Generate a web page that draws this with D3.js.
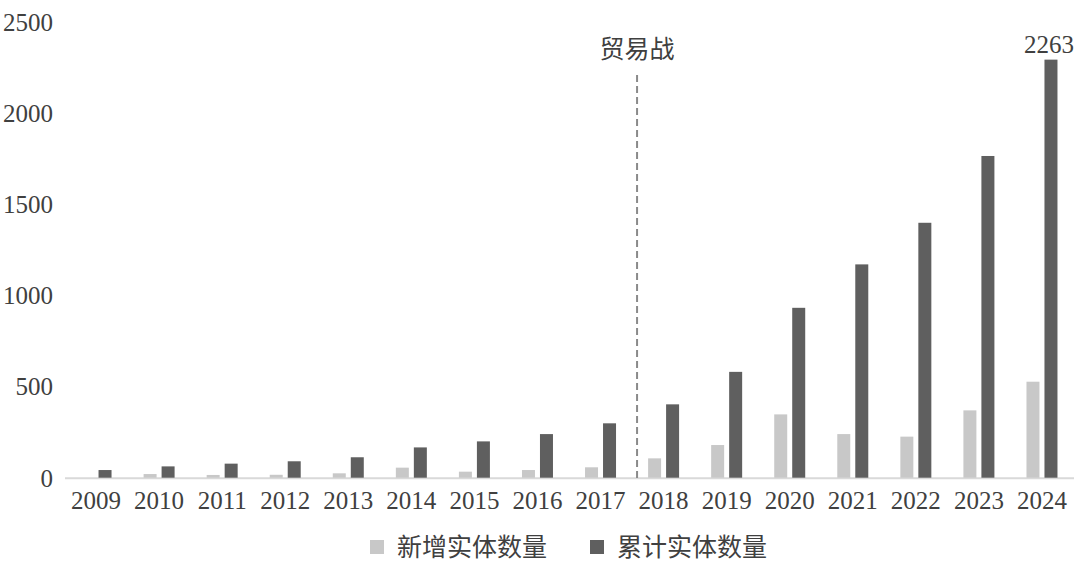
<!DOCTYPE html>
<html><head><meta charset="utf-8">
<script src="https://cdn.jsdelivr.net/npm/d3@7"></script>
<style>
html,body{margin:0;padding:0;background:#fff;}
svg{display:block;}
</style></head>
<body>
<svg id="chart" width="1080" height="563"></svg>
<script>
const years = ["2009","2010","2011","2012","2013","2014","2015","2016","2017","2018","2019","2020","2021","2022","2023","2024"];
const newEntities = [0, 20, 15, 16, 24, 55, 33, 42, 57, 106, 179, 347, 239, 225, 369, 526];
const cumulativeEntities = [42, 62, 77, 90, 112, 166, 199, 239, 298, 402, 580, 931, 1169, 1397, 1763, 2291];
const yTicks = [0, 500, 1000, 1500, 2000, 2500];
const seriesNames = ["新增实体数量", "累计实体数量"];
const seriesColors = ["#c8c8c8", "#5f5f5f"];
const eventLabel = "贸易战";
const eventYear = "2018";
const endLabel = "2263";

const svg = d3.select("#chart");
const serif = "'Liberation Serif','Times New Roman',serif";
const cjk = "'Noto Sans CJK SC','Noto Sans CJK JP',sans-serif";
const textColor = "#404040";

const x = d3.scaleBand().domain(years).range([64.5, 1073.5]).paddingInner(0).paddingOuter(0);
const y = d3.scaleLinear().domain([0, 2500]).range([477.7, 21.5]);
const barW = 13, gap = 5;
const step = x.step();
const cx = d => x(d) + step / 2;

// y axis labels
const yAxis = d3.axisLeft(y).tickValues(yTicks).tickSize(0).tickPadding(0).tickFormat(d3.format("d"));
const gy = svg.append("g").attr("transform", "translate(53,0)").call(yAxis);
gy.select(".domain").remove();
gy.selectAll("text").attr("font-family", serif).attr("font-size", 25).attr("fill", textColor).attr("dy", "0.34em");

// x axis
const xAxis = d3.axisBottom(x).tickSize(0).tickPadding(14);
const gx = svg.append("g").attr("transform", `translate(0,${y(0)})`).call(xAxis);
gx.select(".domain").attr("stroke", "#d9d9d9").attr("stroke-width", 2);
gx.selectAll("text").attr("font-family", serif).attr("font-size", 25).attr("fill", textColor).attr("dy", "0.7em");

// bars
const data = years.map((yr, i) => ({yr, n: newEntities[i], c: cumulativeEntities[i]}));
svg.append("g").selectAll("rect").data(data.filter(d => d.n > 0)).join("rect")
  .attr("x", d => cx(d.yr) - gap/2 - barW)
  .attr("width", barW)
  .attr("y", d => y(d.n))
  .attr("height", d => y(0) - y(d.n))
  .attr("fill", seriesColors[0]);
svg.append("g").selectAll("rect").data(data).join("rect")
  .attr("x", d => cx(d.yr) + gap/2)
  .attr("width", barW)
  .attr("y", d => y(d.c))
  .attr("height", d => y(0) - y(d.c))
  .attr("fill", seriesColors[1]);

// end label
const last = data[data.length - 1];
svg.append("text")
  .attr("x", cx(last.yr) + gap/2 + barW/2 - 2)
  .attr("y", y(last.c) - 7)
  .attr("text-anchor", "middle")
  .attr("font-family", serif).attr("font-size", 25).attr("fill", textColor)
  .text(endLabel);

// event dashed line
const ex = x(eventYear) + 5;
svg.append("line")
  .attr("x1", ex).attr("x2", ex)
  .attr("y1", 75).attr("y2", y(0) + 4)
  .attr("stroke", "#8a8a8a").attr("stroke-width", 2).attr("stroke-dasharray", "7,4");
svg.append("text")
  .attr("x", ex).attr("y", 58)
  .attr("text-anchor", "middle")
  .attr("font-family", cjk).attr("font-size", 25).attr("fill", textColor)
  .text(eventLabel);

// legend
const legendX = [370, 590];
const lg = svg.append("g");
seriesNames.forEach((name, i) => {
  lg.append("rect").attr("x", legendX[i]).attr("y", 540).attr("width", 14).attr("height", 14).attr("fill", seriesColors[i]);
  lg.append("text").attr("x", legendX[i] + 27).attr("y", 547).attr("dy", "0.36em")
    .attr("font-family", cjk).attr("font-size", 25).attr("fill", textColor).text(name);
});
</script>
</body></html>
